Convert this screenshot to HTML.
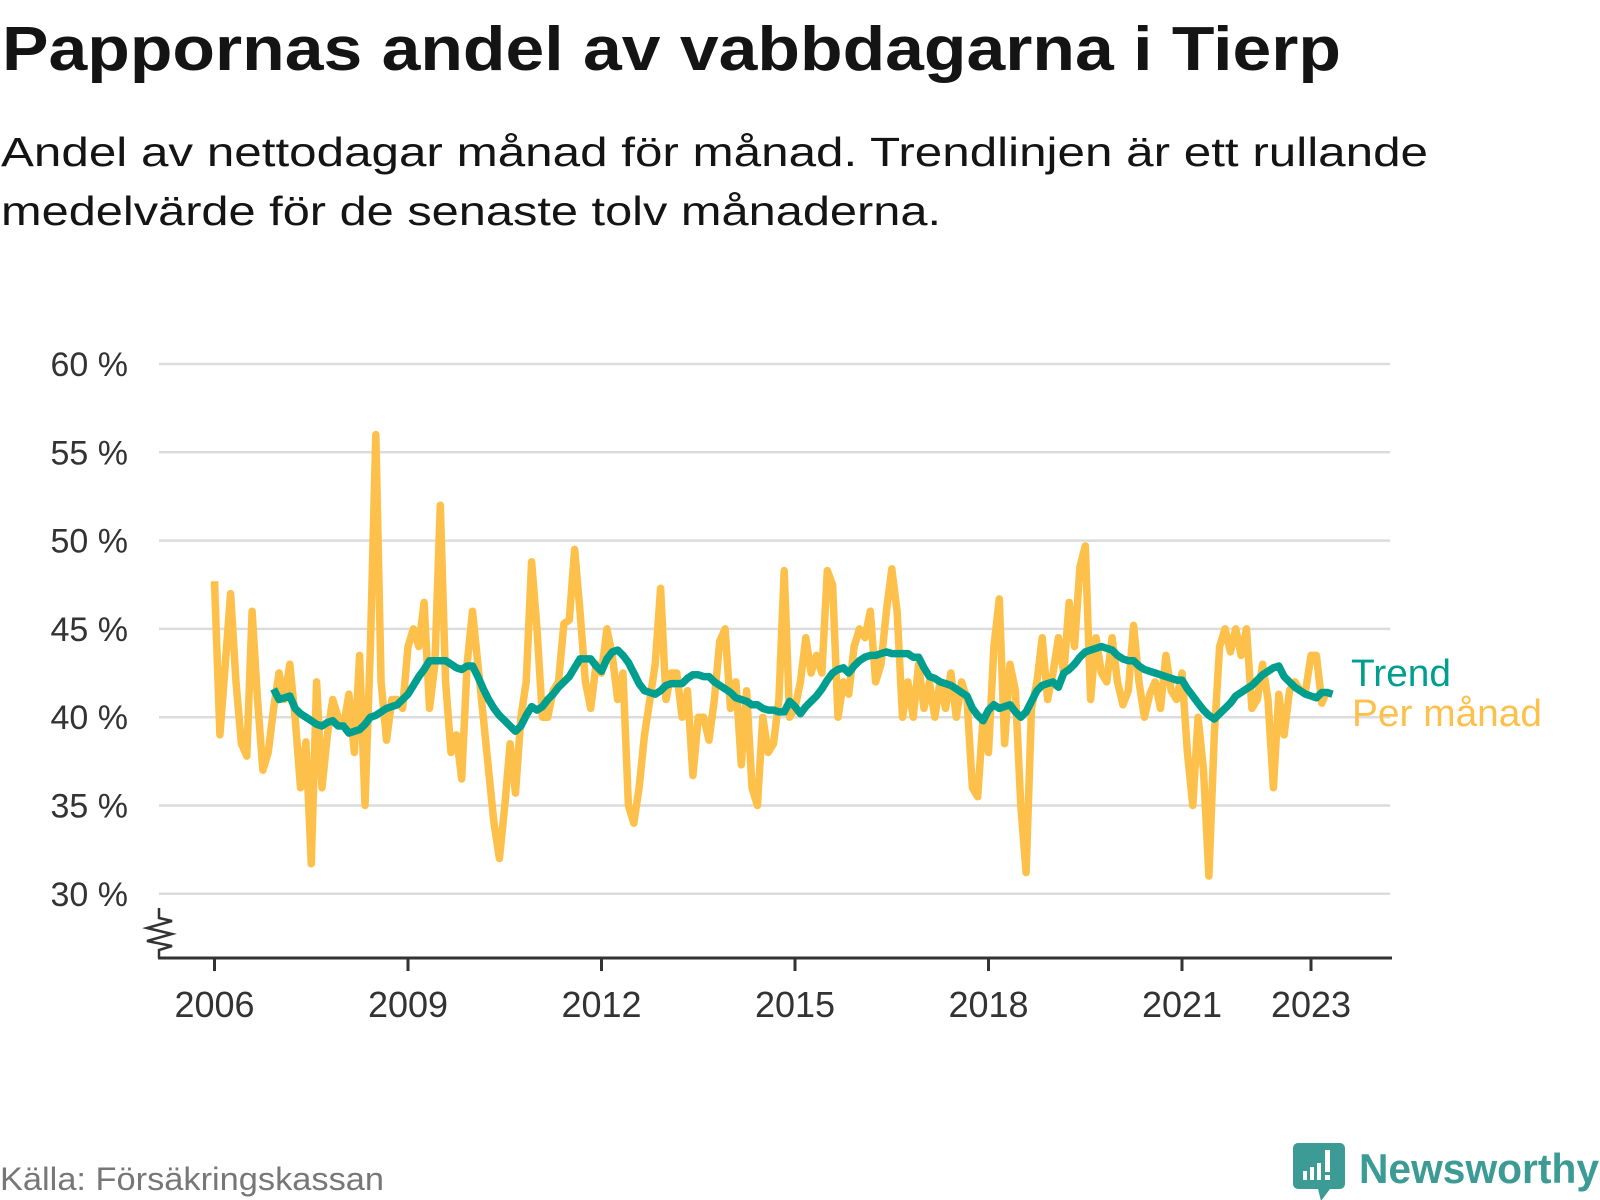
<!DOCTYPE html>
<html><head><meta charset="utf-8"><style>
html,body{margin:0;padding:0;background:#fff;}
svg{display:block;font-family:"Liberation Sans",sans-serif;}
</style></head><body>
<svg id="chart" width="1600" height="1200" viewBox="0 0 1600 1200" xmlns="http://www.w3.org/2000/svg">
<text x="2" y="70" font-size="62" font-weight="bold" fill="#141414" textLength="1339" lengthAdjust="spacingAndGlyphs">Pappornas andel av vabbdagarna i Tierp</text>
<text x="1" y="166" font-size="41" fill="#141414" textLength="1427" lengthAdjust="spacingAndGlyphs">Andel av nettodagar månad för månad. Trendlinjen är ett rullande</text>
<text x="1" y="225" font-size="41" fill="#141414" textLength="940" lengthAdjust="spacingAndGlyphs">medelvärde för de senaste tolv månaderna.</text>
<g id="grid"></g>
<g id="yticks"></g>
<g id="xaxis"></g>
<path d="M159 908 L159 918 L172 921 L147 928 L172 934 L147 941 L172 946 L159 950 L159 958" fill="none" stroke="#333" stroke-width="2.5"/>
<g id="series"></g>
<text x="1351" y="686" font-size="38" fill="#009e8f" textLength="100" lengthAdjust="spacingAndGlyphs">Trend</text>
<text x="1352" y="726" font-size="38" fill="#fdc04b" textLength="190" lengthAdjust="spacingAndGlyphs">Per månad</text>
<text x="0" y="1190" font-size="32" fill="#777" textLength="384" lengthAdjust="spacingAndGlyphs">Källa: Försäkringskassan</text>
<g>
<path d="M1298 1143 h42 a5 5 0 0 1 5 5 v36 a5 5 0 0 1 -5 5 h-10 l-9 12 l-3 -12 h-20 a5 5 0 0 1 -5 -5 v-36 a5 5 0 0 1 5 -5z" fill="#3d9b95"/>
<rect x="1303" y="1171" width="4" height="9" fill="#fff"/>
<rect x="1310" y="1167" width="4" height="13" fill="#fff"/>
<rect x="1317" y="1163" width="4" height="17" fill="#fff"/>
<rect x="1325" y="1150" width="5" height="22" fill="#fff"/>
<rect x="1325" y="1175" width="5" height="5" fill="#fff"/>
<text x="1359" y="1183" font-size="42" font-weight="bold" fill="#3d9b95" textLength="240" lengthAdjust="spacingAndGlyphs">Newsworthy</text>
</g>
</svg>
<script>
const yTicks=[30,35,40,45,50,55,60];
const yTickLabels=["30 %","35 %","40 %","45 %","50 %","55 %","60 %"];
const xTickYears=[2006,2009,2012,2015,2018,2021,2023];
const xTickLabels=["2006","2009","2012","2015","2018","2021","2023"];
const startYear=2006;
const monthly=[
47.7,39,43,47,42,38.5,37.8,46,41,37,38,40.5,
42.5,41,43,40,36,38.6,31.7,42,36,39,41,40,
39.5,41.3,38,43.5,35,44,56,42,38.7,41,41,40.5,
44,45,44,46.5,40.5,43,52,42,38,39,36.5,43,
46,43,40,37,34,32,35,38.5,35.7,40,42,48.8,
45,40,40,41.5,42,45.3,45.5,49.5,46,42,40.5,43,
42.5,45,43.5,41,42.5,35,34,36,39,41,43,47.3,
41,42.5,42.5,40,41.5,36.7,40,40,38.7,41,44.3,45,
40.5,42,37.3,41.5,36,35,40,38,38.5,41,48.3,40,
40.5,42,44.5,42.5,43.5,42.5,48.3,47.5,40,42,41.3,44,
45,44.5,46,42,43,46,48.4,46,40,42,40,43,
40.5,42,40,42,40.5,42.5,40,42,41,36,35.5,40,
38,44,46.7,38.5,43,41.5,35,31.2,40.5,42,44.5,41,
42.5,44.5,42.5,46.5,44,48.5,49.7,41,44.5,42.5,42,44.5,
42,40.7,41.5,45.2,42,40,41.3,42,40.5,43.5,41.5,41,
42.5,38,35,40,37,31,39,44,45,43.7,45,43.5,
45,40.5,41,43,41,36,41.3,39,41.5,42,41.5,41.5,
43.5,43.5,40.8,41.5
];
const trendStart=11;
const trend=[
41.6,
41.0,41.1,41.2,40.5,40.2,40.0,39.8,39.6,39.5,39.7,39.8,39.5,
39.5,39.1,39.2,39.3,39.6,40.0,40.1,40.3,40.5,40.6,40.7,41.0,
41.3,41.8,42.3,42.7,43.2,43.2,43.2,43.2,43.0,42.8,42.7,42.9,
42.9,42.3,41.6,41.0,40.5,40.1,39.8,39.5,39.2,39.5,40.1,40.6,
40.4,40.6,41.0,41.3,41.7,42.0,42.3,42.8,43.3,43.3,43.3,42.9,
42.6,43.3,43.7,43.8,43.5,43.1,42.5,41.9,41.5,41.4,41.3,41.5,
41.8,41.9,41.9,41.9,42.2,42.4,42.4,42.3,42.3,42.0,41.8,41.6,
41.4,41.1,41.0,40.9,40.7,40.7,40.5,40.4,40.4,40.3,40.3,40.9,
40.6,40.2,40.6,40.9,41.2,41.6,42.1,42.5,42.7,42.8,42.5,42.9,
43.2,43.4,43.5,43.5,43.6,43.7,43.6,43.6,43.6,43.6,43.4,43.4,
42.8,42.3,42.2,42.0,41.9,41.8,41.6,41.4,41.2,40.5,40.1,39.8,
40.4,40.7,40.5,40.6,40.7,40.3,40.0,40.3,40.9,41.5,41.8,41.9,
42.0,41.7,42.5,42.7,43.0,43.4,43.7,43.8,43.9,44.0,43.9,43.8,
43.5,43.3,43.2,43.2,42.9,42.7,42.6,42.5,42.4,42.3,42.2,42.1,
42.1,41.6,41.2,40.8,40.4,40.1,39.9,40.2,40.5,40.8,41.2,41.4,
41.6,41.8,42.1,42.4,42.6,42.8,42.9,42.3,42.0,41.7,41.5,41.3,
41.2,41.1,41.4,41.4,41.3
];
const NS="http://www.w3.org/2000/svg";
function yScale(v){return 364+(60-v)*17.66;}
function xScale(t){return 214.5+(t-startYear)*64.5;}
function mx(i){return xScale(startYear+i/12);}
const grid=document.getElementById('grid'),yt=document.getElementById('yticks'),xa=document.getElementById('xaxis'),ser=document.getElementById('series');
yTicks.forEach((v,i)=>{
  const l=document.createElementNS(NS,'line');
  
  
  l.setAttribute('x1',159);l.setAttribute('x2',1390);l.setAttribute('y1',yScale(v));l.setAttribute('y2',yScale(v));
  l.setAttribute('stroke','#dcdcdc');l.setAttribute('stroke-width','2.5');grid.appendChild(l);
  const t=document.createElementNS(NS,'text');
  
  
  t.setAttribute('x',128);t.setAttribute('y',yScale(v)+12);t.setAttribute('text-anchor','end');
  t.setAttribute('font-size','34');t.setAttribute('fill','#333');t.textContent=yTickLabels[i];yt.appendChild(t);
});
const ax=document.createElementNS(NS,'line');


ax.setAttribute('x1',158);ax.setAttribute('x2',1392);ax.setAttribute('y1',958);ax.setAttribute('y2',958);
ax.setAttribute('stroke','#333');ax.setAttribute('stroke-width','3');xa.appendChild(ax);
xTickYears.forEach((yr,i)=>{
  const x=xScale(yr);
  const tk=document.createElementNS(NS,'line');
  
  
  tk.setAttribute('x1',x);tk.setAttribute('x2',x);tk.setAttribute('y1',958);tk.setAttribute('y2',971);
  tk.setAttribute('stroke','#333');tk.setAttribute('stroke-width','3');xa.appendChild(tk);
  const t=document.createElementNS(NS,'text');
  
  
  t.setAttribute('x',x);t.setAttribute('y',1017);t.setAttribute('text-anchor','middle');
  t.setAttribute('font-size','36');t.setAttribute('fill','#333');t.textContent=xTickLabels[i];xa.appendChild(t);
});
function mkPath(pts,color,name){
  const p=document.createElementNS(NS,'path');
  
  
  p.setAttribute('d',pts.map((q,i)=>(i?'L':'M')+q[0].toFixed(1)+' '+q[1].toFixed(1)).join(' '));
  p.setAttribute('fill','none');p.setAttribute('stroke',color);p.setAttribute('stroke-width','7.5');
  p.setAttribute('stroke-linejoin','round');ser.appendChild(p);
}
mkPath(monthly.map((v,i)=>[mx(i),yScale(v)]),'#fdc04b','per-manad-line');
mkPath(trend.map((v,i)=>[mx(i+trendStart),yScale(v)]),'#009e8f','trend-line');
</script>
</body></html>
